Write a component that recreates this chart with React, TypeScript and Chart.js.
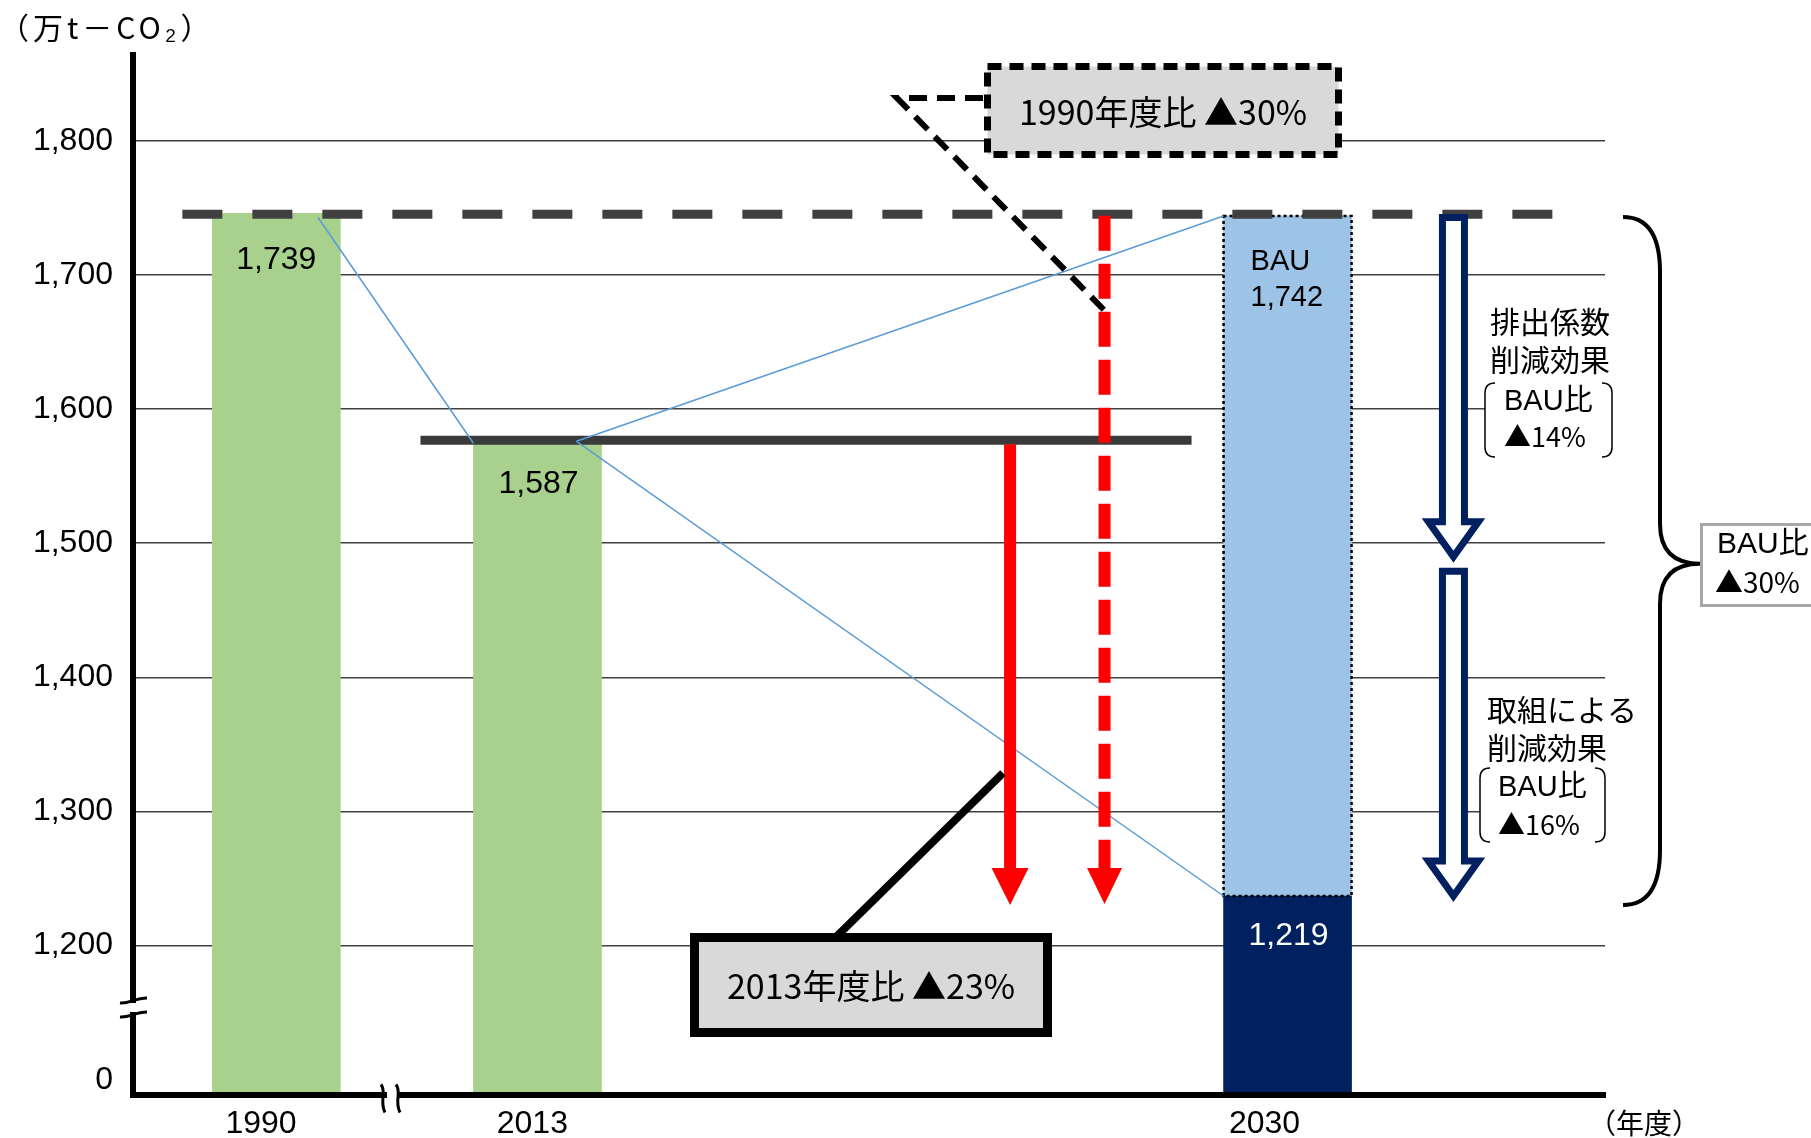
import { useEffect, useRef } from "react";
import { Chart, registerables } from "chart.js";

Chart.register(...registerables);

// ---------- data ----------
const categories = ["1990", "2013", "2030"];
const emissions = [1746, 1576, 1237]; // bar heights as drawn (万t-CO2)
const bauLevel = 1744; // 2030 BAU bar top as drawn
const splitLevel = 1484; // split between the two reduction effects
const valueLabels = ["1,739", "1,587", "1,219"];
const bauLabels = ["BAU", "1,742"];
const yTicks = [1200, 1300, 1400, 1500, 1600, 1700, 1800];
const ZERO_TICK = 1100; // where "0" sits below the axis break
const box1990Text = "1990年度比 ▲30%";
const box2013Text = "2013年度比 ▲23%";
const effect1Text = ["排出係数", "削減効果"];
const effect1Ratio = ["BAU比", "▲14%"];
const effect2Text = ["取組による", "削減効果"];
const effect2Ratio = ["BAU比", "▲16%"];
const totalRatio = ["BAU比", "▲30%"];
const yUnitTitle = "（万t－CO₂）";
const xUnitTitle = "（年度）";

// ---------- layout / style ----------
const xSlots = [1.12, 3.16, 9.02]; // bar centres (in bar widths)
const xLabelSlots = [1.0, 3.12, 8.84]; // tick label centres
const X_MAX = 11.5;
const Y_MIN = 1089;
const Y_MAX = 1864;
const FONT = "'Liberation Sans', 'Noto Sans CJK JP', sans-serif";
const JP = "'Noto Sans CJK JP', sans-serif";
const GREEN = "#A9D18E";
const NAVY = "#002060";
const LIGHTBLUE = "#9DC3E6";
const RED = "#FF0000";
const DARK = "#404040";
const THIN_BLUE = "#5B9BD5";

function text(ctx: CanvasRenderingContext2D, s: string, x: number, y: number, size: number, align: CanvasTextAlign = "left", color = "#000", family = FONT, spacing = 0) {
  ctx.save();
  ctx.font = `${size}px ${family}`;
  ctx.fillStyle = color;
  ctx.textAlign = align;
  ctx.textBaseline = "middle";
  if (spacing) (ctx as any).letterSpacing = `${spacing}px`;
  ctx.fillText(s, x, y);
  ctx.restore();
}

function line(ctx: CanvasRenderingContext2D, pts: number[][], color: string, width: number, dash: number[] = []) {
  ctx.save();
  ctx.strokeStyle = color;
  ctx.lineWidth = width;
  ctx.setLineDash(dash);
  ctx.lineCap = "butt";
  ctx.lineJoin = "miter";
  ctx.beginPath();
  pts.forEach((p, i) => (i === 0 ? ctx.moveTo(p[0], p[1]) : ctx.lineTo(p[0], p[1])));
  ctx.stroke();
  ctx.restore();
}

function redArrow(ctx: CanvasRenderingContext2D, x: number, y0: number, tip: number, headW: number, headH: number, dash: number[]) {
  line(ctx, [[x, y0], [x, tip - headH]], RED, 12, dash);
  ctx.save();
  ctx.fillStyle = RED;
  ctx.beginPath();
  ctx.moveTo(x - headW / 2, tip - headH);
  ctx.lineTo(x + headW / 2, tip - headH);
  ctx.lineTo(x, tip);
  ctx.closePath();
  ctx.fill();
  ctx.restore();
}

function hollowArrow(ctx: CanvasRenderingContext2D, cx: number, top: number, tip: number) {
  const sw = 11, hw = 25, hh = 35;
  ctx.save();
  ctx.beginPath();
  ctx.moveTo(cx - sw, top);
  ctx.lineTo(cx + sw, top);
  ctx.lineTo(cx + sw, tip - hh);
  ctx.lineTo(cx + hw, tip - hh);
  ctx.lineTo(cx, tip);
  ctx.lineTo(cx - hw, tip - hh);
  ctx.lineTo(cx - sw, tip - hh);
  ctx.closePath();
  ctx.fillStyle = "#fff";
  ctx.fill();
  ctx.strokeStyle = NAVY;
  ctx.lineWidth = 7;
  ctx.lineJoin = "miter";
  ctx.stroke();
  ctx.restore();
}

function bracket(ctx: CanvasRenderingContext2D, l: number, t: number, r: number, b: number) {
  ctx.save();
  ctx.fillStyle = "#fff";
  ctx.fillRect(l, t, r - l, b - t);
  ctx.strokeStyle = "#000";
  ctx.lineWidth = 1.5;
  ctx.beginPath();
  ctx.moveTo(l + 10, t);
  ctx.quadraticCurveTo(l, t, l, t + 10);
  ctx.lineTo(l, b - 10);
  ctx.quadraticCurveTo(l, b, l + 10, b);
  ctx.moveTo(r - 10, t);
  ctx.quadraticCurveTo(r, t, r, t + 10);
  ctx.lineTo(r, b - 10);
  ctx.quadraticCurveTo(r, b, r - 10, b);
  ctx.stroke();
  ctx.restore();
}

const annotations = {
  id: "annotations",
  afterDatasetsDraw(chart: any) {
    const ctx: CanvasRenderingContext2D = chart.ctx;
    const xs = chart.scales.x;
    const ys = chart.scales.y;
    const X = (u: number) => xs.getPixelForValue(u);
    const Y = (v: number) => ys.getPixelForValue(v);
    const bars = chart.getDatasetMeta(0).data;
    const bau = chart.getDatasetMeta(1).data[0];
    const bauL = bau.x - bau.width / 2;
    const bauR = bau.x + bau.width / 2;

    // BAU dotted outline
    ctx.save();
    ctx.strokeStyle = "#000";
    ctx.lineWidth = 2.5;
    ctx.setLineDash([3, 3]);
    ctx.strokeRect(bauL, bau.y, bauR - bauL, bau.base - bau.y);
    ctx.restore();

    // 1990 level dashed line
    const y1990 = Y(emissions[0]) + 1;
    line(ctx, [[bars[0].x - bars[0].width / 2 - 30, y1990], [X(11.09), y1990]], DARK, 9, [40, 30]);
    // 2013 level line
    const y2013 = Y(emissions[1]) - 1;
    line(ctx, [[bars[1].x - bars[1].width / 2 - 53, y2013], [X(8.27), y2013]], "#3A3A3A", 9);

    // thin blue connecting lines
    line(ctx, [[bars[0].x + 41.5, Y(emissions[0]) + 4], [bars[1].x - bars[1].width / 2, Y(emissions[1]) + 2]], THIN_BLUE, 1.5);
    const sx = bars[1].x + 39, sy = Y(emissions[1]);
    line(ctx, [[sx, sy], [bauL, bau.y]], THIN_BLUE, 1.5);
    line(ctx, [[sx, sy], [bauL, bars[2].y]], THIN_BLUE, 1.5);

    // red arrows
    redArrow(ctx, X(6.852), Y(emissions[1]) + 3, Y(emissions[2]) + 9, 37, 37, []);
    redArrow(ctx, X(7.59), Y(emissions[0]) + 2.5, Y(emissions[2]) + 8, 35, 36, [35, 13]);

    // navy hollow arrows
    const ax = X(10.316);
    hollowArrow(ctx, ax, Y(bauLevel) + 1.5, Y(splitLevel) - 8);
    hollowArrow(ctx, ax, Y(splitLevel) + 6.5, Y(emissions[2]));

    // effect texts
    text(ctx, effect1Text[0], 1490, 322, 30, "left", "#000", JP);
    text(ctx, effect1Text[1], 1490, 360, 30, "left", "#000", JP);
    bracket(ctx, 1485, 383, 1612, 457);
    text(ctx, effect1Ratio[0], 1504, 402, 29);
    text(ctx, effect1Ratio[1], 1504, 437, 27, "left", "#000", JP);

    text(ctx, effect2Text[0], 1487, 710, 30, "left", "#000", JP);
    text(ctx, effect2Text[1], 1487, 748, 30, "left", "#000", JP);
    bracket(ctx, 1480, 768, 1605, 842);
    text(ctx, effect2Ratio[0], 1498, 788, 29);
    text(ctx, effect2Ratio[1], 1498, 825, 27, "left", "#000", JP);

    // curly brace
    const bt = Y(bauLevel) + 1, bb = Y(emissions[2]) + 9, bm = Y(splitLevel) - 1;
    ctx.save();
    ctx.strokeStyle = "#000";
    ctx.lineWidth = 4;
    ctx.beginPath();
    ctx.moveTo(1623, bt);
    ctx.quadraticCurveTo(1660, bt, 1660, bt + 55);
    ctx.lineTo(1660, bm - 40);
    ctx.quadraticCurveTo(1660, bm, 1700, bm);
    ctx.quadraticCurveTo(1660, bm, 1660, bm + 40);
    ctx.lineTo(1660, bb - 55);
    ctx.quadraticCurveTo(1660, bb, 1623, bb);
    ctx.stroke();
    ctx.restore();

    // total ratio box
    ctx.save();
    ctx.fillStyle = "#fff";
    ctx.fillRect(1701.5, 524.5, 130, 81);
    ctx.strokeStyle = "#A6A6A6";
    ctx.lineWidth = 3;
    ctx.strokeRect(1701.5, 524.5, 130, 81);
    ctx.restore();
    text(ctx, totalRatio[0], 1717, 545, 30);
    text(ctx, totalRatio[1], 1715, 582, 28, "left", "#000", JP);

    // 1990 callout (dashed)
    line(ctx, [[983, 98], [897, 98], [1105, 311]], "#000", 6, [18, 10]);
    ctx.save();
    ctx.fillStyle = "#D9D9D9";
    ctx.fillRect(987.5, 66.5, 351, 88);
    ctx.strokeStyle = "#000";
    ctx.lineWidth = 7;
    ctx.setLineDash([14, 8]);
    ctx.strokeRect(987.5, 66.5, 351, 88);
    ctx.restore();
    text(ctx, box1990Text, 1163, 112, 34, "center", "#000", JP);

    // 2013 callout (solid)
    line(ctx, [[1003, 773], [835, 938]], "#000", 8);
    ctx.save();
    ctx.fillStyle = "#D9D9D9";
    ctx.fillRect(694.5, 937.5, 353, 95);
    ctx.strokeStyle = "#000";
    ctx.lineWidth = 9;
    ctx.strokeRect(694.5, 937.5, 353, 95);
    ctx.restore();
    text(ctx, box2013Text, 871, 986, 34, "center", "#000", JP);

    // bar value labels
    text(ctx, valueLabels[0], bars[0].x, bars[0].y + 47, 32, "center");
    text(ctx, valueLabels[1], bars[1].x + 1, bars[1].y + 43, 32, "center");
    text(ctx, valueLabels[2], bars[2].x + 1, bars[2].y + 40, 32, "center", "#fff");
    text(ctx, bauLabels[0], bauL + 27, bau.y + 46, 29);
    text(ctx, bauLabels[1], bauL + 27, bau.y + 82, 29);
  },
  afterDraw(chart: any) {
    const ctx: CanvasRenderingContext2D = chart.ctx;
    const { left, bottom } = chart.chartArea;
    ctx.save();
    // y-axis break
    ctx.fillStyle = "#fff";
    ctx.fillRect(left - 5, 1003, 10, 9);
    ctx.strokeStyle = "#000";
    ctx.lineWidth = 3;
    [1001, 1015].forEach((yy) => {
      ctx.beginPath();
      ctx.moveTo(left - 13, yy + 2);
      ctx.bezierCurveTo(left - 4, yy + 3, left + 2, yy - 3, left + 14, yy - 3);
      ctx.stroke();
    });
    // x-axis break
    ctx.fillRect(387, bottom - 5, 10, 10);
    [383, 398].forEach((xx) => {
      ctx.beginPath();
      ctx.moveTo(xx - 2, bottom - 10);
      ctx.bezierCurveTo(xx + 4, bottom - 2, xx - 4, bottom + 6, xx + 2, bottom + 18);
      ctx.stroke();
    });
    ctx.restore();
    // unit titles
    text(ctx, yUnitTitle, -1, 28, 30, "left", "#000", JP, 4);
    text(ctx, xUnitTitle, 1588, 1123, 28, "left", "#000", JP);
  },
};

export default function App() {
  const ref = useRef<HTMLCanvasElement>(null);
  useEffect(() => {
    const canvas = ref.current as HTMLCanvasElement;
    const chart = new Chart(canvas, {
      type: "bar",
      data: {
        datasets: [
          {
            data: categories.map((c, i) => ({ x: xSlots[i], y: emissions[i] })),
            backgroundColor: [GREEN, GREEN, NAVY],
            borderWidth: 0,
            barThickness: 128,
            grouped: false,
          } as any,
          {
            data: [{ x: xSlots[2], y: [emissions[2], bauLevel] }],
            backgroundColor: LIGHTBLUE,
            borderWidth: 0,
            barThickness: 128,
            grouped: false,
          } as any,
        ],
      },
      options: {
        animation: false,
        responsive: false,
        devicePixelRatio: 1,
        layout: { padding: { top: 55, right: 206, bottom: 0, left: 0 } },
        plugins: { legend: { display: false }, tooltip: { enabled: false } },
        scales: {
          x: {
            type: "linear",
            min: 0,
            max: X_MAX,
            offset: false,
            grid: { display: false, drawTicks: false },
            border: { display: true, color: "#000", width: 6, z: 1 },
            afterBuildTicks: (s: any) => {
              s.ticks = xLabelSlots.map((v) => ({ value: v }));
            },
            afterFit: (s: any) => {
              s.height = 43.5;
            },
            ticks: {
              callback: (_v: any, i: number) => categories[i],
              color: "#000",
              font: { size: 32, family: FONT },
              padding: 10,
              autoSkip: false,
              maxRotation: 0,
            },
          },
          y: {
            type: "linear",
            min: Y_MIN,
            max: Y_MAX,
            afterBuildTicks: (s: any) => {
              s.ticks = [ZERO_TICK, ...yTicks].map((v) => ({ value: v }));
            },
            afterFit: (s: any) => {
              s.width = 133;
            },
            grid: {
              color: (c: any) => (c.tick && c.tick.value === ZERO_TICK ? "rgba(0,0,0,0)" : DARK),
              lineWidth: 1.5,
              drawTicks: false,
            },
            border: { display: true, color: "#000", width: 6, z: 1 },
            ticks: {
              callback: (v: any) => (v === ZERO_TICK ? "0" : Number(v).toLocaleString("en-US")),
              color: "#000",
              font: { size: 32, family: FONT },
              padding: 20,
            },
          },
        },
      } as any,
      plugins: [annotations],
    });
    return () => chart.destroy();
  }, []);
  return (
    <div style={{ position: "absolute", left: 0, top: 0, width: 1811, height: 1138, background: "#fff" }}>
      <canvas ref={ref} width={1811} height={1138} style={{ width: 1811, height: 1138, display: "block" }} />
    </div>
  );
}
